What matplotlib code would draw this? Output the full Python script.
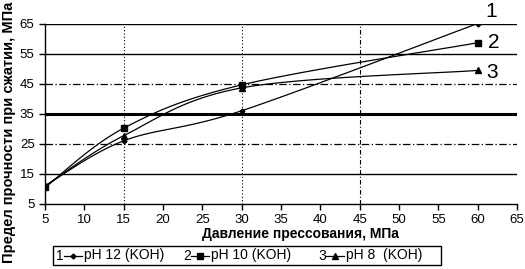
import matplotlib.pyplot as plt
import numpy as np
from matplotlib.lines import Line2D

plt.rcParams['font.family'] = ['Liberation Sans', 'DejaVu Sans']

# pressing pressure, MPa
pressure = [5, 15, 30, 60]
# compressive strength, MPa
ph12 = [11, 26, 36, 65]
ph10 = [10.5, 30.2, 44.6, 58.6]
ph8 = [11, 27.7, 43.6, 49.4]

series_labels = ['pH 12 (KOH)', 'pH 10 (KOH)', 'pH 8  (KOH)']
series_numbers = ['1', '2', '3']
markers = ['D', 's', '^']
marker_sizes = [2.5, 4.5, 4]

xticks = list(range(5, 70, 5))
yticks = list(range(5, 70, 10))


def smooth(x, y, n=40):
    # excel-like smoothed line (catmull-rom as bezier)
    p = np.column_stack([x, y]).astype(float)
    pts = np.vstack([p[0], p, p[-1]])
    out = []
    for i in range(1, len(pts) - 2):
        p0, p1, p2, p3 = pts[i - 1], pts[i], pts[i + 1], pts[i + 2]
        c1 = p1 + (p2 - p0) / 6
        c2 = p2 - (p3 - p1) / 6
        t = np.linspace(0, 1, n)[:, None]
        seg = ((1 - t) ** 3) * p1 + 3 * ((1 - t) ** 2) * t * c1 + 3 * (1 - t) * t ** 2 * c2 + t ** 3 * p2
        out.append(seg)
    out = np.vstack(out)
    return out[:, 0], out[:, 1]


fig = plt.figure(figsize=(5.25, 2.69), dpi=100)
ax = fig.add_axes([45 / 525, 1 - 204 / 269, 472 / 525, 180.5 / 269])

# grid
for yv in yticks[1:]:
    if yv == 35:
        ax.axhline(yv, color='black', lw=2.2, zorder=1)
    elif yv in (25, 45):
        ax.axhline(yv, color='black', lw=0.9, ls=(0, (6, 2, 1, 2)), zorder=1)
    else:
        ax.axhline(yv, color='black', lw=1.0, zorder=1)
for xv in (15, 30):
    ax.axvline(xv, color='black', lw=0.8, ls=(0, (1, 2)), zorder=1)
ax.axvline(45, color='black', lw=0.8, ls=(0, (4, 2, 1, 2)), zorder=1)

all_series = [ph12, ph10, ph8]
for vals, m, ms in zip(all_series, markers, marker_sizes):
    sx, sy = smooth(pressure, vals)
    ax.plot(sx, sy, color='black', lw=0.9, zorder=3)
    ax.plot(pressure, vals, ls='none', marker=m, ms=ms, color='black', zorder=4)

# end labels
offsets = [(14, 12), (16, 0), (14, -2)]
for vals, num, off in zip(all_series, series_numbers, offsets):
    ax.annotate(num, (pressure[-1], vals[-1]), xytext=off, textcoords='offset pixels',
                fontsize=15, ha='center', va='center')

ax.set_xlim(5, 65)
ax.set_ylim(5, 65)
ax.set_xticks(xticks)
ax.set_yticks(yticks)
ax.tick_params(labelsize=9.5, direction='out', length=4, width=1, color='black')
ax.tick_params(axis='x', pad=3)
for s in ('top', 'right'):
    ax.spines[s].set_visible(False)
ax.spines['left'].set_linewidth(1.0)
ax.spines['bottom'].set_linewidth(1.0)

fig.text(300 / 525, 1 - 234 / 269, 'Давление прессования, МПа', fontsize=10,
         fontweight='bold', ha='center', va='center')
fig.text(9 / 525, 1 - 132 / 269, 'Предел прочности при сжатии, МПа', fontsize=10.5,
         fontweight='bold', ha='center', va='center', rotation=90)

# legend box drawn by hand to keep the numbered style
W, H = 525, 269
box = plt.Rectangle((53 / W, 1 - 265 / H), 388 / W, 19 / H, transform=fig.transFigure,
                    fill=False, color='black', lw=1)
fig.add_artist(box)
yl = 1 - 255.5 / H
starts = [56, 183, 318]
for x0, num, lab, m, ms in zip(starts, series_numbers, series_labels, markers, marker_sizes):
    fig.text(x0 / W, yl, num, fontsize=10, ha='left', va='center')
    fig.add_artist(Line2D([(x0 + 8) / W, (x0 + 26) / W], [yl, yl], transform=fig.transFigure,
                          color='black', lw=0.9))
    fig.add_artist(Line2D([(x0 + 17) / W], [yl], transform=fig.transFigure, marker=m,
                          ms=ms, color='black', ls='none'))
    fig.text((x0 + 28) / W, yl, lab, fontsize=10, ha='left', va='center')

fig.savefig('out.png', dpi=100)
